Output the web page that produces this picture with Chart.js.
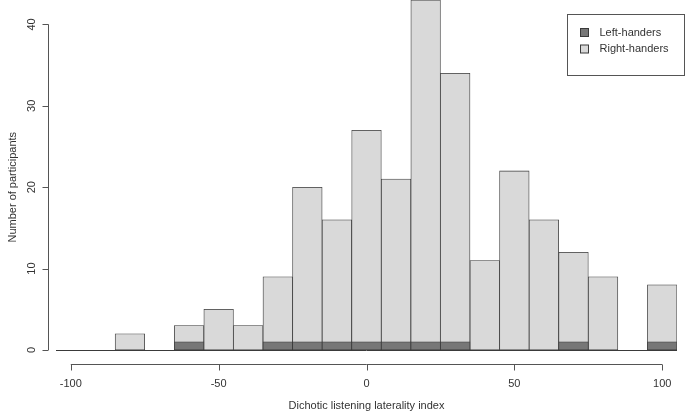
<!DOCTYPE html>
<html>
<head>
<meta charset="utf-8">
<script src="https://cdn.jsdelivr.net/npm/chart.js@4"></script>
<style>
  html, body { margin: 0; padding: 0; background: #fff; }
  #wrap { width: 685px; height: 414px; }
</style>
</head>
<body>
<div id="wrap"><canvas id="chart" width="685" height="414"></canvas></div>
<script>
// histogram bins (bin centres, width 10)
const BINS = [-100, -90, -80, -70, -60, -50, -40, -30, -20, -10, 0, 10, 20, 30, 40, 50, 60, 70, 80, 90, 100]
const RIGHT = [0, 0, 2, 0, 3, 5, 3, 9, 20, 16, 27, 21, 43, 34, 11, 22, 16, 12, 9, 0, 8]
const LEFT = [0, 0, 0, 0, 1, 0, 0, 1, 1, 1, 1, 1, 1, 1, 0, 0, 0, 1, 0, 0, 1]

const X_TICKS = [-100, -50, 0, 50, 100]
const Y_TICKS = [0, 10, 20, 30, 40]

const X_TITLE = "Dichotic listening laterality index"
const Y_TITLE = "Number of participants"

const LEFT_COLOR = "#777777"
const RIGHT_COLOR = "#d9d9d9"
const EDGE = "#3a3a3a"
const AXIS = "#555555"
const TEXT = "#333333"
const FONT = "11px 'Liberation Sans', Arial, sans-serif"

// R-style axes, baseline and legend
const rAxes = {
  id: "rAxes",
  beforeDatasetsDraw(chart) {
    const { ctx, scales: { x, y } } = chart
    // baseline for empty bins
    ctx.save()
    ctx.strokeStyle = EDGE
    ctx.lineWidth = 1
    const by = Math.round(y.getPixelForValue(0)) + 0.5
    ctx.beginPath()
    ctx.moveTo(x.getPixelForValue(x.min), by)
    ctx.lineTo(x.getPixelForValue(x.max), by)
    ctx.stroke()
    ctx.restore()
  },
  afterDraw(chart) {
    const { ctx, chartArea, scales: { x, y } } = chart
    ctx.save()
    ctx.strokeStyle = AXIS
    ctx.fillStyle = TEXT
    ctx.lineWidth = 1
    ctx.font = FONT

    // x axis
    const ay = chartArea.bottom + 14.5
    ctx.beginPath()
    ctx.moveTo(x.getPixelForValue(X_TICKS[0]), ay)
    ctx.lineTo(x.getPixelForValue(X_TICKS[X_TICKS.length - 1]), ay)
    X_TICKS.forEach((t) => {
      const px = Math.round(x.getPixelForValue(t)) + 0.5
      ctx.moveTo(px, ay)
      ctx.lineTo(px, ay + 6)
    })
    ctx.stroke()
    ctx.textAlign = "center"
    ctx.textBaseline = "middle"
    X_TICKS.forEach((t) => {
      ctx.fillText(String(t), x.getPixelForValue(t), ay + 19)
    })
    ctx.fillText(X_TITLE, (x.getPixelForValue(X_TICKS[0]) + x.getPixelForValue(X_TICKS[X_TICKS.length - 1])) / 2, ay + 41)

    // y axis
    const ax = chartArea.left - 7.5
    ctx.beginPath()
    ctx.moveTo(ax, y.getPixelForValue(Y_TICKS[0]))
    ctx.lineTo(ax, y.getPixelForValue(Y_TICKS[Y_TICKS.length - 1]))
    Y_TICKS.forEach((t) => {
      const py = Math.round(y.getPixelForValue(t)) + 0.5
      ctx.moveTo(ax, py)
      ctx.lineTo(ax - 6, py)
    })
    ctx.stroke()
    Y_TICKS.forEach((t) => {
      ctx.save()
      ctx.translate(ax - 17, y.getPixelForValue(t))
      ctx.rotate(-Math.PI / 2)
      ctx.fillText(String(t), 0, 0)
      ctx.restore()
    })
    ctx.save()
    ctx.translate(ax - 36, (y.getPixelForValue(Y_TICKS[0]) + y.getPixelForValue(Y_TICKS[Y_TICKS.length - 1])) / 2)
    ctx.rotate(-Math.PI / 2)
    ctx.fillText(Y_TITLE, 0, 0)
    ctx.restore()

    // legend (top right)
    const lx = chartArea.right - 109.5
    const ly = 14.5
    ctx.strokeStyle = AXIS
    ctx.strokeRect(lx, ly, 117, 61)
    ctx.textAlign = "left"
    chart.data.datasets.forEach((ds, i) => {
      const cy = ly + 18 + i * 16.5
      ctx.fillStyle = ds.backgroundColor
      ctx.fillRect(lx + 13, cy - 4, 8, 8)
      ctx.strokeStyle = EDGE
      ctx.strokeRect(lx + 13, cy - 4, 8, 8)
      ctx.fillStyle = TEXT
      ctx.fillText(ds.label, lx + 32, cy)
    })
    ctx.restore()
  },
}

new Chart(document.getElementById("chart"), {
  type: "bar",
  data: {
    datasets: [
      {
        label: "Left-handers",
        data: BINS.map((b, i) => ({ x: b, y: LEFT[i] })),
        backgroundColor: LEFT_COLOR,
        borderColor: EDGE,
        borderWidth: 0.8,
        borderSkipped: false,
        grouped: false,
        order: 0,
      },
      {
        label: "Right-handers",
        data: BINS.map((b, i) => ({ x: b, y: RIGHT[i] })),
        backgroundColor: RIGHT_COLOR,
        borderColor: EDGE,
        borderWidth: 0.8,
        borderSkipped: false,
        grouped: false,
        order: 1,
      },
    ],
  },
  options: {
    responsive: false,
    animation: false,
    layout: { padding: { left: 56, right: 8, top: 0, bottom: 64 } },
    barPercentage: 1,
    categoryPercentage: 1,
    scales: {
      x: { type: "linear", min: -105, max: 105, display: false, offset: false },
      y: { min: 0, max: 43, display: false },
    },
    plugins: {
      legend: { display: false },
      tooltip: { enabled: false },
    },
  },
  plugins: [rAxes],
})
</script>
</body>
</html>
